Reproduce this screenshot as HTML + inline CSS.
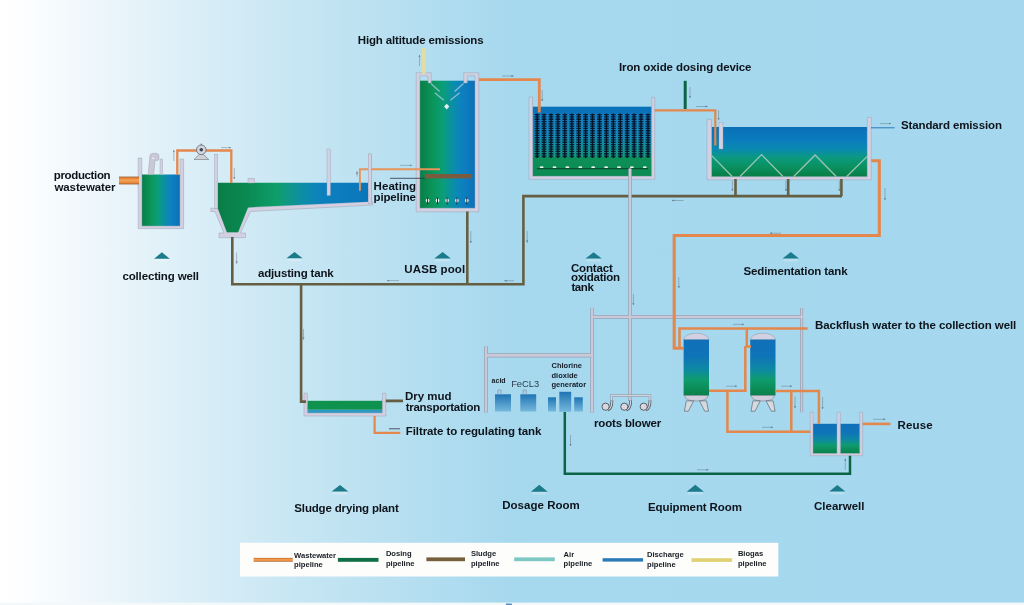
<!DOCTYPE html>
<html><head><meta charset="utf-8"><title>Wastewater treatment process</title>
<style>
html,body{margin:0;padding:0;width:1024px;height:605px;overflow:hidden;background:#fff;}
svg{display:block;will-change:transform;}
text{font-family:"Liberation Sans",sans-serif;font-weight:bold;font-size:11.5px;fill:#0e141b;}
.lg{font-size:7.6px;fill:#181c22;}
.sm{font-size:7.5px;fill:#141c26;}
</style></head>
<body>
<svg width="1024" height="605" viewBox="0 0 1024 605">
<defs>
  <linearGradient id="bg" x1="0" y1="0" x2="1024" y2="0" gradientUnits="userSpaceOnUse">
    <stop offset="0" stop-color="#ffffff"/>
    <stop offset="0.02" stop-color="#fdfeff"/>
    <stop offset="0.12" stop-color="#e8f4fa"/>
    <stop offset="0.29" stop-color="#c7e6f3"/>
    <stop offset="0.50" stop-color="#a6d8ee"/>
    <stop offset="1" stop-color="#a5d8ee"/>
  </linearGradient>
  <linearGradient id="gH" x1="0" y1="0" x2="1" y2="0">
    <stop offset="0" stop-color="#087e46"/>
    <stop offset="0.22" stop-color="#0a9458"/>
    <stop offset="0.42" stop-color="#0a9e78"/>
    <stop offset="0.58" stop-color="#0a90a4"/>
    <stop offset="0.75" stop-color="#0c82c0"/>
    <stop offset="1" stop-color="#0c70b8"/>
  </linearGradient>
  <linearGradient id="gHadj" x1="217" y1="0" x2="368" y2="0" gradientUnits="userSpaceOnUse">
    <stop offset="0" stop-color="#0a7c48"/>
    <stop offset="0.2" stop-color="#0a8a52"/>
    <stop offset="0.4" stop-color="#0e9e6c"/>
    <stop offset="0.56" stop-color="#0e8ea6"/>
    <stop offset="0.7" stop-color="#0c80be"/>
    <stop offset="1" stop-color="#0a76ba"/>
  </linearGradient>
  <linearGradient id="gV" x1="0" y1="0" x2="0" y2="1">
    <stop offset="0" stop-color="#1170b8"/>
    <stop offset="0.3" stop-color="#0e74b8"/>
    <stop offset="0.55" stop-color="#0e8aa0"/>
    <stop offset="0.72" stop-color="#0e9c6c"/>
    <stop offset="1" stop-color="#0a8048"/>
  </linearGradient>
  <linearGradient id="gSed" x1="0" y1="127" x2="0" y2="177" gradientUnits="userSpaceOnUse">
    <stop offset="0" stop-color="#0a70b6"/>
    <stop offset="0.25" stop-color="#0a7cbe"/>
    <stop offset="0.45" stop-color="#0a8aae"/>
    <stop offset="0.62" stop-color="#0a9a7e"/>
    <stop offset="0.8" stop-color="#0a9060"/>
    <stop offset="1" stop-color="#087c44"/>
  </linearGradient>
  <linearGradient id="gCon" x1="0" y1="106" x2="0" y2="177" gradientUnits="userSpaceOnUse">
    <stop offset="0" stop-color="#0a72b8"/>
    <stop offset="0.1" stop-color="#0a72b8"/>
    <stop offset="0.11" stop-color="#1278bc"/>
    <stop offset="0.4" stop-color="#1280b4"/>
    <stop offset="0.7" stop-color="#10907a"/>
    <stop offset="0.73" stop-color="#0e9058"/>
    <stop offset="1" stop-color="#0c8a52"/>
  </linearGradient>
  <linearGradient id="gTank" x1="0" y1="0" x2="0" y2="1">
    <stop offset="0" stop-color="#1f74b4"/>
    <stop offset="1" stop-color="#75b8dc"/>
  </linearGradient>
  <linearGradient id="gOr" x1="0" y1="0" x2="0" y2="1">
    <stop offset="0" stop-color="#9a5a2a"/>
    <stop offset="0.2" stop-color="#e6883c"/>
    <stop offset="0.5" stop-color="#f2a052"/>
    <stop offset="0.8" stop-color="#e6883c"/>
    <stop offset="1" stop-color="#9a5a2a"/>
  </linearGradient>
  <marker id="ah" viewBox="0 0 6 6" refX="5" refY="3" markerWidth="2.6" markerHeight="2.6" orient="auto" markerUnits="userSpaceOnUse">
    <path d="M0,0.6 L6,3 L0,5.4 Z" fill="#46505c"/>
  </marker>
</defs>

<!-- background -->
<rect x="0" y="0" width="1024" height="605" fill="url(#bg)"/>
<rect x="0" y="602.6" width="1024" height="2.4" fill="#f3f9fb"/>
<rect x="505.8" y="603.6" width="6.2" height="1.4" rx="0.6" fill="#5a86bc"/>

<!-- ============ COLLECTING WELL ============ -->
<g>
  <rect x="141.8" y="174.5" width="38.3" height="51.6" fill="url(#gH)"/>
  <path d="M138.2,158 H141.8 V226 H180 V159 H183.6 V228.6 H138.2 Z" fill="#d3d1e1" stroke="#98a0b4" stroke-width="0.5"/>
  <rect x="160" y="159" width="2.7" height="15.5" fill="#d3d1e1" stroke="#98a0b4" stroke-width="0.4"/>
  <path d="M148.2,174.6 L149.9,156.2 Q150.2,153.4 153,153.4 H156.4 Q158.9,153.4 158.9,156 V158.3 Q158.9,160.6 156.8,160.6 H155.1 L153.6,174.6 Z" fill="#c9c8d6" stroke="#9fa2b4" stroke-width="0.5"/>
  <ellipse cx="153.2" cy="158.2" rx="1.1" ry="0.8" fill="#f4f6fa"/>
</g>
<!-- ============ ADJUSTING TANK ============ -->
<g>
  <path d="M210.8,208.2 H217.8 L226.9,232.2 H238.1 L248,207.4 L368.2,201.8 H372.7 V205 L250.5,211.5 L240.5,233 H245.5 V237.6 H219 V233 H224 L214.9,211.5 H210.8 Z" fill="#d3d1e1" stroke="#98a0b4" stroke-width="0.5"/>
  <path d="M217.8,182.7 H368.2 V201.8 L248,207.4 L238.1,232.2 H226.9 L217.8,208.2 Z" fill="url(#gHadj)"/>
  <rect x="214.5" y="154.2" width="3.3" height="54" fill="#d3d1e1" stroke="#98a0b4" stroke-width="0.4"/>
  <rect x="368.2" y="154" width="3.1" height="49.6" fill="#d3d1e1" stroke="#98a0b4" stroke-width="0.4"/>
  <rect x="327" y="149" width="3.4" height="46.5" fill="#d3d1e1" stroke="#98a0b4" stroke-width="0.4"/>
  <rect x="248" y="178.2" width="6.5" height="4.8" fill="#d3d1e1" stroke="#98a0b4" stroke-width="0.4"/>
</g>

<!-- ============ UASB ============ -->
<g>
  <rect x="419.8" y="80.7" width="55.2" height="127.6" fill="url(#gH)"/>
  <path d="M416.2,72.8 H431.2 V83 H428.2 V75.8 H419.8 V208.2 H475 V75.8 H467.2 V83 H463.8 V72.8 H478.8 V211.8 H416.2 Z" fill="#d3d1e1" stroke="#98a0b4" stroke-width="0.5"/>
  <g stroke="#9fc4d8" stroke-width="1.3" opacity="0.85">
    <line x1="431" y1="83.5" x2="439.6" y2="91.4"/>
    <line x1="434.8" y1="92.8" x2="443.8" y2="100.2"/>
    <line x1="463.5" y1="83.5" x2="454.6" y2="91.4"/>
    <line x1="459.6" y1="92.8" x2="450.4" y2="100.2"/>
  </g>
  <polygon points="446.7,103.8 449.3,106.6 446.7,109.4 444.1,106.6" fill="#e6eef4"/>
  <rect x="424.8" y="174" width="47" height="4.4" fill="#7b5a3e"/>
  <path d="M390,178.3 H424.8" stroke="#2c3440" stroke-width="0.8"/>
  <g fill="#eef2f4">
  <ellipse cx="427.6" cy="200.6" rx="1.8" ry="2.1"/>
  <ellipse cx="437.5" cy="200.6" rx="1.8" ry="2.1"/>
  <ellipse cx="447.1" cy="200.6" rx="1.8" ry="2.1"/>
  <ellipse cx="456.9" cy="200.6" rx="1.8" ry="2.1"/>
  <ellipse cx="466.8" cy="200.6" rx="1.8" ry="2.1"/>
  </g>
  <g stroke="#15202c" stroke-width="0.9">
  <line x1="427.6" y1="197.4" x2="427.6" y2="204.4"/>
  <line x1="437.5" y1="197.4" x2="437.5" y2="204.4"/>
  <line x1="447.1" y1="197.4" x2="447.1" y2="204.4"/>
  <line x1="456.9" y1="197.4" x2="456.9" y2="204.4"/>
  <line x1="466.8" y1="197.4" x2="466.8" y2="204.4"/>
  </g>
</g>

<!-- ============ CONTACT OXIDATION ============ -->
<g>
  <rect x="532.6" y="106.7" width="119.1" height="69.6" fill="url(#gCon)"/>
  <g id="strands" stroke="#07142a">
<line x1="537.1" y1="113.6" x2="537.1" y2="158" stroke-width="1.4"/>
<line x1="537.1" y1="114" x2="537.1" y2="158" stroke-width="4.6" stroke-dasharray="1.3 1.0" opacity="0.92"/>
<line x1="544.0" y1="113.6" x2="544.0" y2="158" stroke-width="1.4"/>
<line x1="544.0" y1="114" x2="544.0" y2="158" stroke-width="4.6" stroke-dasharray="1.3 1.0" opacity="0.92"/>
<line x1="551.0" y1="113.6" x2="551.0" y2="158" stroke-width="1.4"/>
<line x1="551.0" y1="114" x2="551.0" y2="158" stroke-width="4.6" stroke-dasharray="1.3 1.0" opacity="0.92"/>
<line x1="557.9" y1="113.6" x2="557.9" y2="158" stroke-width="1.4"/>
<line x1="557.9" y1="114" x2="557.9" y2="158" stroke-width="4.6" stroke-dasharray="1.3 1.0" opacity="0.92"/>
<line x1="564.8" y1="113.6" x2="564.8" y2="158" stroke-width="1.4"/>
<line x1="564.8" y1="114" x2="564.8" y2="158" stroke-width="4.6" stroke-dasharray="1.3 1.0" opacity="0.92"/>
<line x1="571.8" y1="113.6" x2="571.8" y2="158" stroke-width="1.4"/>
<line x1="571.8" y1="114" x2="571.8" y2="158" stroke-width="4.6" stroke-dasharray="1.3 1.0" opacity="0.92"/>
<line x1="578.7" y1="113.6" x2="578.7" y2="158" stroke-width="1.4"/>
<line x1="578.7" y1="114" x2="578.7" y2="158" stroke-width="4.6" stroke-dasharray="1.3 1.0" opacity="0.92"/>
<line x1="585.6" y1="113.6" x2="585.6" y2="158" stroke-width="1.4"/>
<line x1="585.6" y1="114" x2="585.6" y2="158" stroke-width="4.6" stroke-dasharray="1.3 1.0" opacity="0.92"/>
<line x1="592.5" y1="113.6" x2="592.5" y2="158" stroke-width="1.4"/>
<line x1="592.5" y1="114" x2="592.5" y2="158" stroke-width="4.6" stroke-dasharray="1.3 1.0" opacity="0.92"/>
<line x1="599.5" y1="113.6" x2="599.5" y2="158" stroke-width="1.4"/>
<line x1="599.5" y1="114" x2="599.5" y2="158" stroke-width="4.6" stroke-dasharray="1.3 1.0" opacity="0.92"/>
<line x1="606.4" y1="113.6" x2="606.4" y2="158" stroke-width="1.4"/>
<line x1="606.4" y1="114" x2="606.4" y2="158" stroke-width="4.6" stroke-dasharray="1.3 1.0" opacity="0.92"/>
<line x1="613.3" y1="113.6" x2="613.3" y2="158" stroke-width="1.4"/>
<line x1="613.3" y1="114" x2="613.3" y2="158" stroke-width="4.6" stroke-dasharray="1.3 1.0" opacity="0.92"/>
<line x1="620.3" y1="113.6" x2="620.3" y2="158" stroke-width="1.4"/>
<line x1="620.3" y1="114" x2="620.3" y2="158" stroke-width="4.6" stroke-dasharray="1.3 1.0" opacity="0.92"/>
<line x1="627.2" y1="113.6" x2="627.2" y2="158" stroke-width="1.4"/>
<line x1="627.2" y1="114" x2="627.2" y2="158" stroke-width="4.6" stroke-dasharray="1.3 1.0" opacity="0.92"/>
<line x1="634.1" y1="113.6" x2="634.1" y2="158" stroke-width="1.4"/>
<line x1="634.1" y1="114" x2="634.1" y2="158" stroke-width="4.6" stroke-dasharray="1.3 1.0" opacity="0.92"/>
<line x1="641.0" y1="113.6" x2="641.0" y2="158" stroke-width="1.4"/>
<line x1="641.0" y1="114" x2="641.0" y2="158" stroke-width="4.6" stroke-dasharray="1.3 1.0" opacity="0.92"/>
<line x1="648.0" y1="113.6" x2="648.0" y2="158" stroke-width="1.4"/>
<line x1="648.0" y1="114" x2="648.0" y2="158" stroke-width="4.6" stroke-dasharray="1.3 1.0" opacity="0.92"/>
</g>
<g stroke="#3aa8c8" stroke-width="0.5" opacity="0.35">
<line x1="540.6" y1="114" x2="540.6" y2="157.5"/>
<line x1="547.5" y1="114" x2="547.5" y2="157.5"/>
<line x1="554.4" y1="114" x2="554.4" y2="157.5"/>
<line x1="561.4" y1="114" x2="561.4" y2="157.5"/>
<line x1="568.3" y1="114" x2="568.3" y2="157.5"/>
<line x1="575.2" y1="114" x2="575.2" y2="157.5"/>
<line x1="582.1" y1="114" x2="582.1" y2="157.5"/>
<line x1="589.1" y1="114" x2="589.1" y2="157.5"/>
<line x1="596.0" y1="114" x2="596.0" y2="157.5"/>
<line x1="602.9" y1="114" x2="602.9" y2="157.5"/>
<line x1="609.9" y1="114" x2="609.9" y2="157.5"/>
<line x1="616.8" y1="114" x2="616.8" y2="157.5"/>
<line x1="623.7" y1="114" x2="623.7" y2="157.5"/>
<line x1="630.7" y1="114" x2="630.7" y2="157.5"/>
<line x1="637.6" y1="114" x2="637.6" y2="157.5"/>
<line x1="644.5" y1="114" x2="644.5" y2="157.5"/>
<line x1="651.4" y1="114" x2="651.4" y2="157.5"/>
</g>
<ellipse cx="541.6" cy="167.2" rx="2" ry="0.9" fill="#eef2ee"/>
<ellipse cx="554.5" cy="167.2" rx="2" ry="0.9" fill="#eef2ee"/>
<ellipse cx="567.4" cy="167.2" rx="2" ry="0.9" fill="#eef2ee"/>
<ellipse cx="580.3" cy="167.2" rx="2" ry="0.9" fill="#eef2ee"/>
<ellipse cx="593.2" cy="167.2" rx="2" ry="0.9" fill="#eef2ee"/>
<ellipse cx="606.1" cy="167.2" rx="2" ry="0.9" fill="#eef2ee"/>
<ellipse cx="619.0" cy="167.2" rx="2" ry="0.9" fill="#eef2ee"/>
<ellipse cx="631.9" cy="167.2" rx="2" ry="0.9" fill="#eef2ee"/>
<ellipse cx="644.8" cy="167.2" rx="2" ry="0.9" fill="#eef2ee"/>
  <path d="M537,168.6 H648" stroke="#0a5030" stroke-width="1.1"/>
  <path d="M529,97.1 H532.6 V176.3 H651.7 V97.4 H654.7 V179.3 H529 Z" fill="#d3d1e1" stroke="#98a0b4" stroke-width="0.5"/>
</g>

<!-- ============ SEDIMENTATION ============ -->
<g>
  <rect x="711.5" y="127" width="155.8" height="49.8" fill="url(#gSed)"/>
  <path d="M711.7,155.6 L732.2,176.5 M740,176.5 L761.5,154.6 L783,176.5 M793.7,176.5 L815.1,155 L836.2,176.5 M846.7,176.5 L867.2,156.4" fill="none" stroke="#a9cbbc" stroke-width="1.3" opacity="0.9"/>
  <path d="M707,119.3 H711.5 V176.8 H867.3 V117.4 H871.2 V179.8 H707 Z" fill="#d3d1e1" stroke="#98a0b4" stroke-width="0.5"/>
  <rect x="719" y="122.7" width="4" height="26.3" fill="#d3d1e1" stroke="#98a0b4" stroke-width="0.4"/>
</g>

<!-- ============ FILTERS ============ -->
<g id="filter1">
  <path d="M683.6,339.8 A12.7,6.6 0 0 1 709,339.8 Z" fill="#d3d1e1" stroke="#8f95a2" stroke-width="0.5"/>
  <rect x="683.6" y="339.6" width="25.4" height="55.9" fill="url(#gV)"/>
  <path d="M684.6,395.5 H708 Q707.5,401 696.3,401 Q685.1,401 684.6,395.5 Z" fill="#cfcedc" stroke="#6c727c" stroke-width="0.5"/>
  <polygon points="686.3,400.9 693.6,400.9 688.4,411.2 684.4,411.2" fill="#d6dae0" stroke="#4e5660" stroke-width="0.6"/>
  <polygon points="699.5,400.9 706.5,400.9 708.5,411.2 704.7,411.2" fill="#d6dae0" stroke="#4e5660" stroke-width="0.6"/>
</g>
<g id="filter2">
  <path d="M750.2,339.8 A12.65,6.6 0 0 1 775.5,339.8 Z" fill="#d3d1e1" stroke="#8f95a2" stroke-width="0.5"/>
  <rect x="750.2" y="339.6" width="25.3" height="55.9" fill="url(#gV)"/>
  <path d="M751.2,395.5 H774.5 Q774,401 762.9,401 Q751.7,401 751.2,395.5 Z" fill="#cfcedc" stroke="#6c727c" stroke-width="0.5"/>
  <polygon points="752.9,400.9 760.2,400.9 755,411.2 751,411.2" fill="#d6dae0" stroke="#4e5660" stroke-width="0.6"/>
  <polygon points="766.1,400.9 773.1,400.9 775.1,411.2 771.3,411.2" fill="#d6dae0" stroke="#4e5660" stroke-width="0.6"/>
</g>

<!-- ============ CLEARWELL ============ -->
<g>
  <rect x="813" y="423.8" width="24" height="29.8" fill="url(#gV)"/>
  <rect x="840.3" y="423.8" width="19.5" height="29.8" fill="url(#gV)"/>
  <path d="M810.2,412.2 H813 V453.6 H837 V412.2 H840.3 V453.6 H859.8 V412.2 H862.6 V455.7 H810.2 Z" fill="#d3d1e1" stroke="#98a0b4" stroke-width="0.5"/>
</g>

<!-- ============ SLUDGE DRYING ============ -->
<g>
  <rect x="307.3" y="400.8" width="75.2" height="9" fill="#0e924e"/>
  <rect x="307.3" y="409.8" width="75.2" height="3.3" fill="#2e9ac4"/>
  <path d="M304,393.2 H307.3 V413 H382.5 V393.2 H385.8 V416 H304 Z" fill="#d3d1e1" stroke="#98a0b4" stroke-width="0.5"/>
  <path d="M389,428.8 H400" stroke="#2c3440" stroke-width="0.8"/>
</g>

<!-- ============ DOSAGE ============ -->
<g>
  <rect x="495" y="394.3" width="16" height="17.2" fill="url(#gTank)"/>
  <rect x="520.3" y="394.3" width="15.9" height="17.2" fill="url(#gTank)"/>
  <rect x="548" y="397.3" width="8" height="14.2" fill="url(#gTank)"/>
  <rect x="559.3" y="391.8" width="11.9" height="20" fill="url(#gTank)"/>
  <rect x="574.2" y="397.3" width="8.6" height="14.2" fill="url(#gTank)"/>
  <path d="M498,394.3 V390 H501 V394.3" fill="none" stroke="#8a98a8" stroke-width="0.8"/>
  <path d="M523.2,394.3 V390 H526.2 V394.3" fill="none" stroke="#8a98a8" stroke-width="0.8"/>
</g>

<!-- ============ PIPES ============ -->
<g fill="none" stroke-linejoin="miter">
  <!-- sludge brown -->
  <path d="M232.3,237 V284.3 H523.4 V196.1 H842" stroke="#655e42" stroke-width="2.6"/>
  <path d="M467.3,211.5 V284.3" stroke="#655e42" stroke-width="2.6"/>
  <path d="M301.1,284.3 V401.6 H306" stroke="#655e42" stroke-width="2.6"/>
  <path d="M735.5,179 V196.1 M788.2,179 V196.1 M841.4,179 V196.1" stroke="#655e42" stroke-width="2.6"/>
  <path d="M385.8,400.9 H403" stroke="#655e42" stroke-width="2.8"/>
  <!-- air gray -->
  <path d="M630,168.6 V401" stroke="#98a3b3" stroke-width="3.5"/>
  <path d="M592,316.9 H803" stroke="#98a3b3" stroke-width="3.8"/>
  <path d="M592,307.8 V412.6" stroke="#98a3b3" stroke-width="3.5"/>
  <path d="M486,355.4 H592" stroke="#98a3b3" stroke-width="4.4"/>
  <path d="M486,346.2 V412.6" stroke="#98a3b3" stroke-width="3.8"/>
  <path d="M801.6,308 V412.2" stroke="#98a3b3" stroke-width="3.1"/>
  <path d="M630,168.6 V401" stroke="#cac8d9" stroke-width="2.0"/>
  <path d="M592,316.9 H803" stroke="#cac8d9" stroke-width="2.3"/>
  <path d="M592,307.8 V412.6" stroke="#cac8d9" stroke-width="2.0"/>
  <path d="M486,355.4 H592" stroke="#cac8d9" stroke-width="2.9"/>
  <path d="M486,346.2 V412.6" stroke="#cac8d9" stroke-width="2.3"/>
  <path d="M801.6,308 V412.2" stroke="#cac8d9" stroke-width="1.6"/>
  <path d="M611.5,401 V395.5 H649.9 V401" stroke="#98a3b3" stroke-width="2.6"/><path d="M611.5,401 V395.5 H649.9 V401" stroke="#d3d2de" stroke-width="1.2"/>
  <!-- orange wastewater -->
  <path d="M177.3,175 V150.5 H231.3 V183" stroke="#e3874c" stroke-width="2.3"/>
  <path d="M440,169.2 H359.9 V190.8" stroke="#e6945a" stroke-width="1.9"/>
  <path d="M478.8,79.7 H539.3 V112.5" stroke="#e3874c" stroke-width="2.8"/>
  <path d="M654.7,110.3 H715.3 V145.5" stroke="#e3874c" stroke-width="2.2"/>
  <path d="M871.2,160.8 H879.3 V235.5 H674.2 V348.3 H684" stroke="#e3874c" stroke-width="3.1"/>
  <path d="M679.5,348.3 V328.5 H807.6" stroke="#e3874c" stroke-width="2.6"/>
  <path d="M746.8,328.5 V346.5 H751 M745.3,346 V391" stroke="#e3874c" stroke-width="2.5"/>
  <path d="M709,390.8 H746.5 M727.4,390.8 V431.8 H810.3 M775.5,391 H818.9 V423.8 M791.3,391 V431.8" stroke="#e3874c" stroke-width="2.5"/>
  <path d="M374.6,416 V432.9 H400.3" stroke="#e3874c" stroke-width="2.2"/>
  <!-- green dosing -->
  <path d="M564.8,412 V473.7 H850 V455.7" stroke="#0c6446" stroke-width="2.5"/>
  <path d="M685.2,80.8 V109" stroke="#0c6446" stroke-width="3"/>
  <!-- discharge -->
  <path d="M871,127.8 H894.6" stroke="#2a7ab8" stroke-width="1"/>
</g>
<!-- inlet pipe -->
<rect x="119" y="176.6" width="20" height="7.8" fill="url(#gOr)"/>
<!-- reuse pipe -->
<rect x="862.6" y="422.6" width="27.8" height="2.6" fill="#e3874c"/>
<!-- biogas -->
<rect x="422" y="48.2" width="3.5" height="25.5" fill="#e4dca0"/>

<rect x="368.2" y="154" width="3.1" height="49.6" fill="#d3d1e1" stroke="#98a0b4" stroke-width="0.4"/>
<!-- pump -->
<g>
  <polygon points="201.3,152.5 208.8,159.5 194,159.5" fill="#cfd0d8" stroke="#6d737c" stroke-width="0.6"/>
  <circle cx="201.3" cy="149.8" r="4.8" fill="#d4d4dc" stroke="#5e646e" stroke-width="0.8"/>
  <circle cx="201.3" cy="149.8" r="1.8" fill="#3e4656"/>
  <rect x="200.7" y="143.6" width="1.2" height="1.6" fill="#6d737c"/>
</g>
<!-- roots blowers -->
<path d="M607.8,409.9 Q611.9,408.7 611.9,400.5" fill="none" stroke="#4d545e" stroke-width="2.8"/>
<path d="M607.8,409.9 Q611.9,408.7 611.9,400.5" fill="none" stroke="#d6d8de" stroke-width="1.3"/>
<circle cx="605.6" cy="406.7" r="3.6" fill="#d9d6de" stroke="#4d545e" stroke-width="0.9"/>
<path d="M626.5,409.9 Q630.6,408.7 630.6,400.5" fill="none" stroke="#4d545e" stroke-width="2.8"/>
<path d="M626.5,409.9 Q630.6,408.7 630.6,400.5" fill="none" stroke="#d6d8de" stroke-width="1.3"/>
<circle cx="624.3" cy="406.7" r="3.6" fill="#d9d6de" stroke="#4d545e" stroke-width="0.9"/>
<path d="M645.9,409.9 Q650.0,408.7 650.0,400.5" fill="none" stroke="#4d545e" stroke-width="2.8"/>
<path d="M645.9,409.9 Q650.0,408.7 650.0,400.5" fill="none" stroke="#d6d8de" stroke-width="1.3"/>
<circle cx="643.7" cy="406.7" r="3.6" fill="#d9d6de" stroke="#4d545e" stroke-width="0.9"/>

<!-- arrows -->
<g stroke="#56606b" stroke-width="0.65" fill="none" marker-end="url(#ah)" opacity="0.6">
<path d="M173.8,161 L173.8,150"/>
<path d="M234.3,168 L234.3,179"/>
<path d="M221,147.6 L231,147.6"/>
<path d="M357,176.5 L357,171.5"/>
<path d="M400,165.4 L412,165.4"/>
<path d="M419.5,66 L419.5,55"/>
<path d="M502,76 L513.5,76"/>
<path d="M542.2,90 L542.2,101"/>
<path d="M236.6,252.6 L236.6,263.5"/>
<path d="M470.8,231 L470.8,243"/>
<path d="M399,280.6 L387,280.6"/>
<path d="M514,280.8 L504.5,280.8"/>
<path d="M527.2,231 L527.2,242.5"/>
<path d="M683.6,200.5 L672,200.5"/>
<path d="M303.5,329 L303.5,339.5"/>
<path d="M690,87 L690,98"/>
<path d="M696,106.5 L707.5,106.5"/>
<path d="M718.6,110 L718.6,120"/>
<path d="M732.4,180.6 L732.4,191"/>
<path d="M785.9,180.6 L785.9,191"/>
<path d="M839.3,180.6 L839.3,191"/>
<path d="M885,188 L885,200"/>
<path d="M781,233.2 L770,233.2"/>
<path d="M678.8,277 L678.8,288"/>
<path d="M633.4,294 L633.4,305"/>
<path d="M880,123.6 L891,123.6"/>
<path d="M733,324.4 L744,324.4"/>
<path d="M726,386.2 L737,386.2"/>
<path d="M781,386.2 L792,386.2"/>
<path d="M762,427.3 L773,427.3"/>
<path d="M795,396.5 L795,408"/>
<path d="M822.6,397 L822.6,409"/>
<path d="M570.5,434.8 L570.5,446"/>
<path d="M697,469.8 L708.5,469.8"/>
<path d="M845.3,470 L845.3,458.5"/>
<path d="M873,419.3 L885.3,419.3"/>
</g>

<g fill="#ffffff" opacity="0.22">
<rect x="155.1" y="259.0" width="13.7" height="2.6" rx="1"/>
<rect x="287.5" y="258.6" width="14.1" height="2.6" rx="1"/>
<rect x="435.3" y="258.8" width="14.6" height="2.6" rx="1"/>
<rect x="586.5" y="258.9" width="14.3" height="2.6" rx="1"/>
<rect x="783.6" y="258.8" width="14.4" height="2.6" rx="1"/>
<rect x="332.6" y="491.8" width="14.7" height="2.6" rx="1"/>
<rect x="531.9" y="492.0" width="14.8" height="2.6" rx="1"/>
<rect x="687.7" y="492.0" width="15.2" height="2.6" rx="1"/>
<rect x="830.3" y="491.7" width="14.0" height="2.6" rx="1"/>
</g>
<!-- ============ MARKERS ============ -->
<g fill="#1b7b8b">
  <polygon points="154.1,258.7 161.9,252.3 169.8,258.7"/>
  <polygon points="286.5,258.3 294.5,251.9 302.6,258.3"/>
  <polygon points="434.3,258.5 442.6,252 450.9,258.5"/>
  <polygon points="585.5,258.6 593.6,252.3 601.8,258.6"/>
  <polygon points="782.6,258.5 790.8,252 799,258.5"/>
  <polygon points="331.6,491.5 340,484.9 348.3,491.5"/>
  <polygon points="530.9,491.7 539.3,484.8 547.7,491.7"/>
  <polygon points="686.7,491.7 695.3,484.7 703.9,491.7"/>
  <polygon points="829.3,491.4 837.3,485 845.3,491.4"/>
</g>

<!-- ============ TEXT ============ -->
<text x="357.75" y="43.7" letter-spacing="-0.145">High altitude emissions</text>
<text x="53.75" y="179.4" letter-spacing="-0.35">production</text>
<text x="54.5" y="190.5" letter-spacing="-0.117">wastewater</text>
<text x="122.4" y="280.2" letter-spacing="-0.143">collecting well</text>
<text x="257.95" y="276.8" letter-spacing="-0.165">adjusting tank</text>
<text x="404.35" y="272.9" letter-spacing="0.1">UASB pool</text>
<text x="373.6" y="190.1" letter-spacing="0.042">Heating</text>
<text x="373.6" y="201" letter-spacing="-0.157">pipeline</text>
<text x="618.95" y="70.7" letter-spacing="-0.098">Iron oxide dosing device</text>
<text x="900.95" y="129.4" letter-spacing="-0.119">Standard emission</text>
<text x="570.9" y="271.5" letter-spacing="-0.158">Contact</text>
<text x="570.9" y="281.3" letter-spacing="-0.237">oxidation</text>
<text x="571.4" y="290.9" letter-spacing="-0.383">tank</text>
<text x="743.45" y="275.3" letter-spacing="-0.109">Sedimentation tank</text>
<text x="815.05" y="329.3" letter-spacing="-0.089">Backflush water to the collection well</text>
<text x="404.95" y="399.5" letter-spacing="-0.025">Dry mud</text>
<text x="405.7" y="410.5" letter-spacing="-0.265">transportation</text>
<text x="405.85" y="435.1" letter-spacing="-0.098">Filtrate to regulating tank</text>
<text x="594.05" y="426.8" letter-spacing="-0.173">roots blower</text>
<text x="897.55" y="429" letter-spacing="0.125">Reuse</text>
<text x="294.35" y="511.6" letter-spacing="-0.161">Sludge drying plant</text>
<text x="502.25" y="509.1" letter-spacing="0.02">Dosage Room</text>
<text x="648.05" y="510.8" letter-spacing="-0.104">Equipment Room</text>
<text x="814.0" y="510.4" letter-spacing="-0.006">Clearwell</text>
<text class="sm" x="491.6" y="382.8" style="font-size:7px">acid</text>
<text x="511.2" y="387.3" style="font-weight:normal;font-size:9.3px;fill:#2e3c4c">FeCL3</text>
<text class="sm" x="551.5" y="368">Chlorine</text>
<text class="sm" x="551.5" y="377.6">dioxide</text>
<text class="sm" x="551.5" y="387">generator</text>

<!-- ============ LEGEND ============ -->
<rect x="240" y="542.8" width="538.3" height="33.7" fill="#fdfdfc"/>
<rect x="253.6" y="557.9" width="39.2" height="3.8" fill="url(#gOr)"/>
<rect x="337.9" y="557.9" width="40.6" height="3.9" fill="#0f6e46"/>
<rect x="426.4" y="557.4" width="38.6" height="3.8" fill="#75603e"/>
<rect x="514.2" y="557.4" width="40.6" height="3.8" fill="#7ec8c4"/>
<rect x="602.6" y="558.2" width="40.5" height="3.4" fill="#2a7ab8"/>
<rect x="691.5" y="558.2" width="40.6" height="3.7" fill="#e0d274"/>
<text class="lg" x="294.1" y="557.7">Wastewater</text>
<text class="lg" x="294.1" y="566.9">pipeline</text>
<text class="lg" x="385.9" y="556.2">Dosing</text>
<text class="lg" x="385.9" y="565.7">pipeline</text>
<text class="lg" x="470.9" y="556.2">Sludge</text>
<text class="lg" x="470.9" y="565.7">pipeline</text>
<text class="lg" x="563.6" y="556.6">Air</text>
<text class="lg" x="563.6" y="566.4">pipeline</text>
<text class="lg" x="647" y="557.4">Discharge</text>
<text class="lg" x="647" y="567.4">pipeline</text>
<text class="lg" x="737.9" y="556.2">Biogas</text>
<text class="lg" x="737.9" y="565.7">pipeline</text>
</svg>
</body></html>
